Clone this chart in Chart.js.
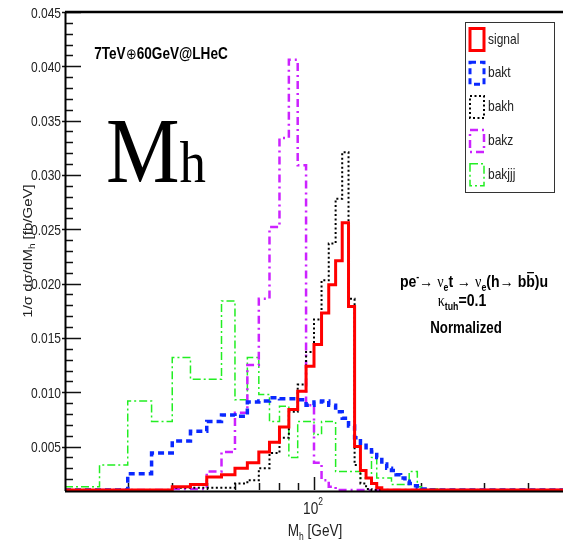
<!DOCTYPE html>
<html>
<head>
<meta charset="utf-8">
<script src="https://cdn.jsdelivr.net/npm/chart.js@4.4.1/dist/chart.umd.min.js"></script>
<style>
  html, body { margin: 0; padding: 0; background: #fff; }
  canvas { display: block; }
</style>
</head>
<body>
<canvas id="mhChart" width="563" height="546"></canvas>
<script>
// bin edges in GeV (5 GeV bins from 20 to 230, then one empty bin up to 500)
const binEdges = [20, 25, 30, 35, 40, 45, 50, 55, 60, 65, 70, 75, 80, 85, 90, 95, 100,
  105, 110, 115, 120, 125, 130, 135, 140, 145, 150, 155, 160, 165, 170, 175, 180,
  185, 190, 195, 200, 205, 210, 215, 220, 225, 230, 500];

// normalized 1/sigma dsigma/dMh per bin
const signal = [0, 0, 0, 0, 0.0013, 0.0015, 0.0022, 0.0024, 0.0030, 0.0035,
  0.0045, 0.0054, 0.0068, 0.0084, 0.0101, 0.0124, 0.0144, 0.0173, 0.0199, 0.0221,
  0.0256, 0.0179, 0.0050, 0.0028, 0.0021, 0.0016, 0.0012, 0, 0, 0,
  0, 0, 0, 0, 0, 0, 0, 0, 0, 0, 0, 0, 0];
const bakt = [0, 0, 0.0025, 0.0044, 0.0055, 0.0064, 0.0073, 0.0079, 0.0078, 0.0091,
  0.0092, 0.0095, 0.0094, 0.0094, 0.0093, 0.0088, 0.0091, 0.0092, 0.0088, 0.0082,
  0.0076, 0.0069, 0.0058, 0.0053, 0.0049, 0.0045, 0.0040, 0.0034, 0.0030, 0.0028,
  0.0024, 0.0021, 0.0018, 0.0016, 0.0014, 0.0012, 0.0011, 0, 0, 0, 0, 0, 0];
const bakh = [0, 0, 0, 0, 0.0012, 0.0012, 0.0012, 0.0012, 0.0016, 0.0019,
  0.0030, 0.0044, 0.0058, 0.0082, 0.0107, 0.0137, 0.0167, 0.0203, 0.0237, 0.0278,
  0.0321, 0.0186, 0.0033, 0.0016, 0.0011, 0, 0, 0, 0, 0,
  0, 0, 0, 0, 0, 0, 0, 0, 0, 0, 0, 0, 0];
const bakz = [0, 0, 0, 0, 0.0011, 0.0011, 0.0027, 0.0045, 0.0081, 0.0125,
  0.0186, 0.0252, 0.0334, 0.0406, 0.0309, 0.0088, 0.0035, 0.0019, 0.0013, 0,
  0, 0, 0, 0, 0, 0, 0, 0, 0, 0,
  0, 0, 0, 0, 0, 0, 0, 0, 0, 0, 0, 0, 0];
const bakjjj = [0.0013, 0.0033, 0.0092, 0.0073, 0.0132, 0.0112, 0.0112, 0.0184, 0.0093, 0.0132,
  0.0098, 0.0073, 0.0087, 0.0040, 0.0073, 0.0073, 0.0061, 0.0073, 0.0073, 0.0027,
  0.0027, 0.0027, 0.0027, 0.0021, 0.0021, 0.0040, 0.0021, 0.0021, 0.0021, 0.0015,
  0.0015, 0.0015, 0.0015, 0.0027, 0.0027, 0.0013, 0.0011, 0.0011, 0.0011, 0.0011,
  0.0011, 0, 0];

const seriesNames = ['signal', 'bakt', 'bakh', 'bakz', 'bakjjj'];
const yTickLabels = ['0.005', '0.010', '0.015', '0.020', '0.025', '0.030', '0.035', '0.040', '0.045'];
const yMinorTicks = [0.002, 0.003, 0.004, 0.006, 0.007, 0.008, 0.009, 0.011, 0.012, 0.013, 0.014,
  0.016, 0.017, 0.018, 0.019, 0.021, 0.022, 0.023, 0.024, 0.026, 0.027, 0.028, 0.029,
  0.031, 0.032, 0.033, 0.034, 0.036, 0.037, 0.038, 0.039, 0.041, 0.042, 0.043, 0.044];
const xMinorTicks = [30, 40, 50, 60, 70, 80, 90, 200, 300, 400];
const xMajorTicks = [100];

const yMin = 0.001, yMax = 0.045;
const SANS = "'Liberation Sans', Arial, sans-serif";
const SERIF = "'Liberation Serif', 'Times New Roman', serif";

// empty bins sit on the frame floor, like ROOT draws them
function histPoints(vals) {
  const pts = vals.map((v, i) => ({ x: binEdges[i], y: Math.max(v, yMin) }));
  pts.push({ x: binEdges[binEdges.length - 1], y: Math.max(vals[vals.length - 1], yMin) });
  return pts;
}

const styles = [
  { color: '#ff0000', width: 3, dash: [] },
  { color: '#0a28ff', width: 3.5, dash: [6, 4] },
  { color: '#000000', width: 2, dash: [2, 2.5] },
  { color: '#cc22ff', width: 2.5, dash: [8, 4, 2, 4] },
  { color: '#22ee22', width: 1.5, dash: [8, 3, 2, 3] }
];
const allSeries = [signal, bakt, bakh, bakz, bakjjj];

function drawRich(ctx, cx, y, segs, sx, align) {
  ctx.save();
  let total = 0;
  segs.forEach(s => { ctx.font = s.f; s.w = ctx.measureText(s.t).width; total += s.w; });
  ctx.translate(cx, y);
  ctx.scale(sx, 1);
  let x = align === 'left' ? 0 : -total / 2;
  ctx.textBaseline = 'alphabetic';
  ctx.textAlign = 'left';
  segs.forEach(s => {
    ctx.font = s.f;
    ctx.fillStyle = s.c || '#000';
    ctx.fillText(s.t, x, s.dy || 0);
    if (s.over) {
      ctx.fillRect(x + s.w * 0.55, -15, s.w * 0.4, 1.3);
    }
    x += s.w;
  });
  ctx.restore();
}

const rootFrame = {
  id: 'rootFrame',
  beforeDatasetsDraw(chart) {
    const { ctx, chartArea: a, scales: { x, y } } = chart;
    ctx.save();
    ctx.strokeStyle = '#111';
    ctx.lineWidth = 1.5;
    ctx.beginPath();
    yMinorTicks.forEach(v => {
      const py = Math.round(y.getPixelForValue(v)) + 0.5;
      ctx.moveTo(a.left, py); ctx.lineTo(a.left + 8, py);
    });
    yTickLabels.forEach(t => {
      const py = Math.round(y.getPixelForValue(parseFloat(t))) + 0.5;
      ctx.moveTo(a.left - 3, py); ctx.lineTo(a.left + 16, py);
    });
    xMinorTicks.forEach(v => {
      const px = Math.round(x.getPixelForValue(v)) + 0.5;
      ctx.moveTo(px, a.bottom); ctx.lineTo(px, a.bottom - 7);
    });
    xMajorTicks.forEach(v => {
      const px = Math.round(x.getPixelForValue(v)) + 0.5;
      ctx.moveTo(px, a.bottom); ctx.lineTo(px, a.bottom - 13);
    });
    ctx.stroke();
    ctx.restore();
  },
  afterDraw(chart) {
    const { ctx, chartArea: a, scales: { x, y } } = chart;
    ctx.save();
    // frame
    ctx.strokeStyle = '#000';
    ctx.lineWidth = 2.5;
    ctx.beginPath();
    ctx.moveTo(a.left, a.top); ctx.lineTo(a.right, a.top);
    ctx.stroke();
    ctx.lineWidth = 2;
    ctx.beginPath();
    ctx.moveTo(a.left + 0.5, a.top); ctx.lineTo(a.left + 0.5, a.bottom + 1);
    ctx.moveTo(a.left, a.bottom + 1.5); ctx.lineTo(a.right, a.bottom + 1.5);
    ctx.stroke();

    // y tick labels
    yTickLabels.forEach(t => {
      const py = y.getPixelForValue(parseFloat(t));
      ctx.save();
      ctx.translate(61, py + 5.5);
      ctx.scale(0.8, 1);
      ctx.font = '15px ' + SANS;
      ctx.fillStyle = '#222';
      ctx.textAlign = 'right';
      ctx.fillText(t, 0, 0);
      ctx.restore();
    });

    // x tick label 10^2
    const p100 = x.getPixelForValue(100);
    drawRich(ctx, p100 - 1, 514, [
      { t: '10', f: '16px ' + SANS, c: '#222' },
      { t: '2', f: '10px ' + SANS, dy: -9, c: '#222' }
    ], 0.85);

    // axis titles
    drawRich(ctx, 315, 536, [
      { t: 'M', f: '16px ' + SANS, c: '#222' },
      { t: 'h', f: '10px ' + SANS, dy: 4, c: '#222' },
      { t: ' [GeV]', f: '16px ' + SANS, c: '#222' }
    ], 0.85);
    ctx.save();
    ctx.translate(32, (a.top + a.bottom) / 2);
    ctx.rotate(-Math.PI / 2);
    ctx.scale(1, 0.85);
    drawRich(ctx, 0, 0, [
      { t: '1/σ dσ/dM', f: '15px ' + SANS, c: '#222' },
      { t: 'h', f: '10px ' + SANS, dy: 4, c: '#222' },
      { t: ' [fb/GeV]', f: '15px ' + SANS, c: '#222' }
    ], 1);
    ctx.restore();

    // header and big label
    drawRich(ctx, 161, 59, [
      { t: '7TeV', f: 'bold 16px ' + SANS },
      { t: '⊕', f: '15px ' + SANS },
      { t: '60GeV@LHeC', f: 'bold 16px ' + SANS }
    ], 0.85);
    drawRich(ctx, 106, 182, [
      { t: 'M', f: '94px ' + SERIF },
      { t: 'h', f: '60px ' + SERIF }
    ], 0.88, 'left');

    // process annotation
    const B = 'bold 16px ' + SANS, b = 'bold 10px ' + SANS, N = '16px ' + SANS, G = '16px ' + SERIF;
    drawRich(ctx, 474, 287, [
      { t: 'pe', f: B }, { t: '-', f: b, dy: -7 }, { t: '→ ', f: N },
      { t: 'ν', f: G }, { t: 'e', f: b, dy: 4 }, { t: 't', f: B }, { t: ' → ', f: N },
      { t: 'ν', f: G }, { t: 'e', f: b, dy: 4 }, { t: '(h', f: B }, { t: '→ ', f: N },
      { t: 'bb', f: B, over: true }, { t: ')u', f: B }
    ], 0.88);
    drawRich(ctx, 462, 306, [
      { t: 'κ', f: G }, { t: 'tuh', f: b, dy: 4 }, { t: '=0.1', f: B }
    ], 0.88);
    drawRich(ctx, 466, 333, [{ t: 'Normalized', f: B }], 0.83);

    // legend
    ctx.lineWidth = 1;
    ctx.strokeStyle = '#333';
    ctx.setLineDash([]);
    ctx.strokeRect(465.5, 22.5, 89, 170);
    chart.data.datasets.forEach((ds, i) => {
      const top = 28.5 + i * 33.8;
      ctx.save();
      ctx.strokeStyle = ds.borderColor;
      ctx.lineWidth = Math.min(ds.borderWidth, 3);
      ctx.setLineDash(ds.borderDash);
      ctx.strokeRect(470, top, 14, 22);
      ctx.restore();
      ctx.save();
      ctx.translate(488, top + 15);
      ctx.scale(0.8, 1);
      ctx.font = '15px ' + SANS;
      ctx.fillStyle = '#222';
      ctx.fillText(ds.label, 0, 0);
      ctx.restore();
    });
    ctx.restore();
  }
};

new Chart(document.getElementById('mhChart'), {
  type: 'line',
  data: {
    datasets: allSeries.map((vals, i) => ({
      label: seriesNames[i],
      data: histPoints(vals),
      borderColor: styles[i].color,
      borderWidth: styles[i].width,
      borderDash: styles[i].dash,
      stepped: true,
      fill: false,
      pointRadius: 0,
      clip: 4
    }))
  },
  options: {
    responsive: false,
    animation: false,
    devicePixelRatio: 1,
    layout: { padding: { left: 65, right: 0, top: 12, bottom: 56 } },
    plugins: { legend: { display: false }, tooltip: { enabled: false } },
    elements: { line: { tension: 0 } },
    scales: {
      x: { type: 'logarithmic', min: 20, max: 500, display: false },
      y: { type: 'linear', min: yMin, max: yMax, display: false }
    }
  },
  plugins: [rootFrame]
});
</script>
</body>
</html>
